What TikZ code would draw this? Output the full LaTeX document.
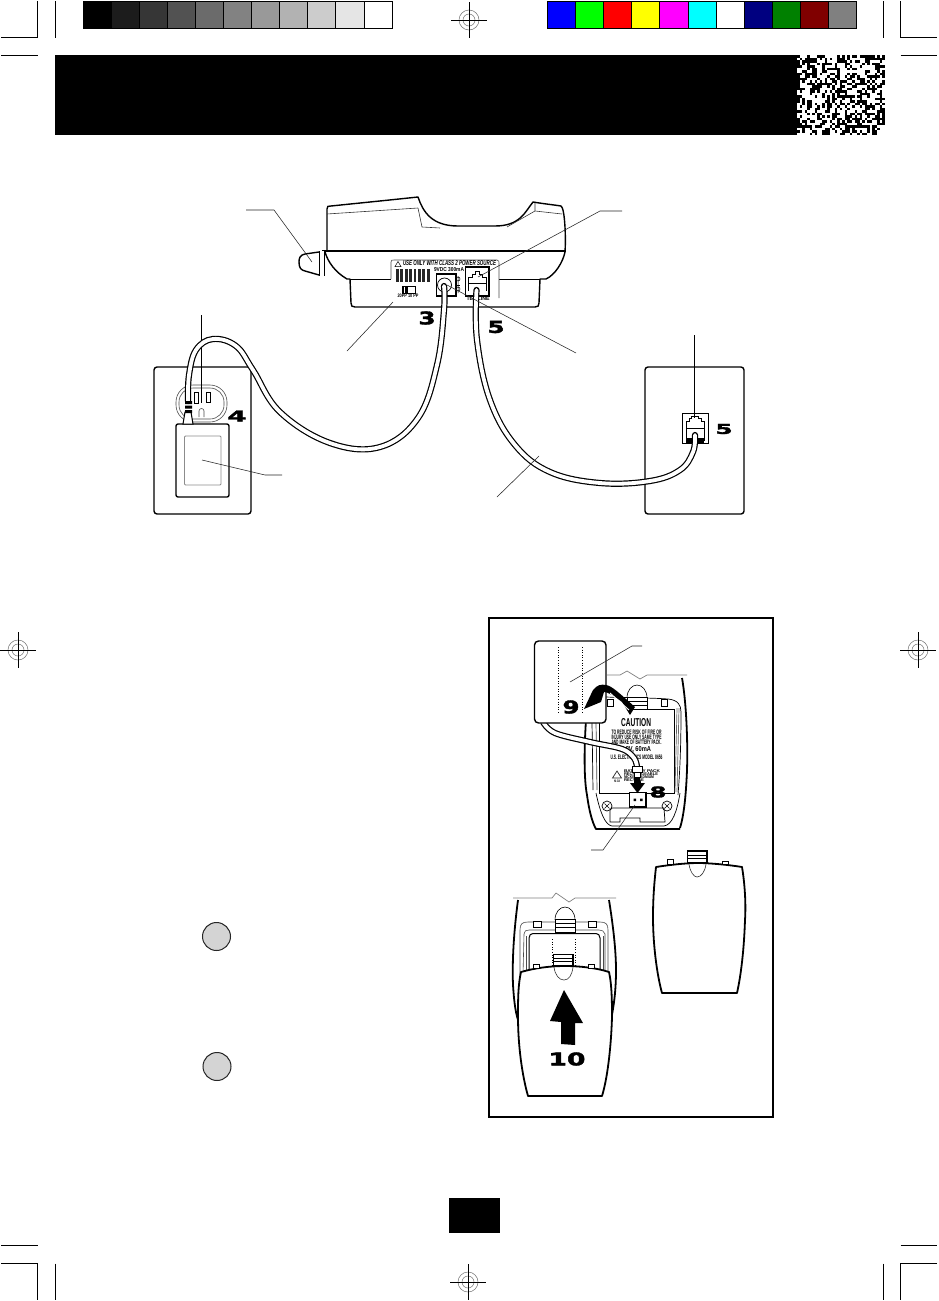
\documentclass[tikz,border=0pt]{standalone}
\usepackage{graphicx}
\usepackage{fontspec}
\setmainfont{Liberation Sans}
\newfontfamily\numfont[BoldFeatures={FakeBold=2}]{DejaVu Sans}
\newcommand{\fitbox}[3]{\resizebox{#1pt}{#2pt}{\bfseries #3}}
\newcommand{\bignum}[3]{\resizebox{#1pt}{#2pt}{\numfont\bfseries #3}}
\definecolor{cblue}{HTML}{0000FF}\definecolor{cgreen}{HTML}{00FF00}
\definecolor{cred}{HTML}{FF0000}\definecolor{cyellow}{HTML}{FFFF00}
\definecolor{cmagenta}{HTML}{FF00FF}\definecolor{ccyan}{HTML}{00FFFF}
\definecolor{cwhite}{HTML}{FFFFFF}
\definecolor{navyb}{HTML}{000080}\definecolor{greenb}{HTML}{008000}
\definecolor{maroonb}{HTML}{800000}\definecolor{greyb}{HTML}{808080}
\tikzset{
  crop/.style={line width=0.8pt,black},
  regline/.style={line width=0.9pt,black},
  regring/.style={line width=0.5pt,black!55},
  leader/.style={line width=0.55pt,black!85},
  breakline/.style={line width=0.7pt,black!50},
  body/.style={line width=1.4pt,black,line join=round},
  thick body/.style={line width=1.8pt,black,line join=round},
  thin body/.style={line width=0.6pt,black!80},
  cord/.style={line width=1.2pt,black,double=white,double distance=3.8pt,line cap=round},
  dots/.style={line width=0.8pt,black,dash pattern=on 1pt off 1.6pt},
  txt/.style={inner sep=0pt,outer sep=0pt,black},
  bullet/.style={circle,draw=black!85,line width=1pt,fill=black!17,minimum size=28pt,inner sep=0pt},
}
\begin{document}
\begin{tikzpicture}[x=1pt,y=-1pt]
\useasboundingbox (0,0) rectangle (938,1301);
\fill[white] (0,0) rectangle (938,1301);

% crop marks
\draw[crop] (37.5,1)--(37.5,37.5)--(1,37.5) (55,1)--(55,37.5) (1,55)--(37.5,55);
\draw[crop] (883,1)--(883,37.5) (900.5,1)--(900.5,37.5)--(937,37.5) (900.5,55)--(937,55);
\draw[crop] (1,1245)--(37.5,1245) (1,1263.5)--(37.5,1263.5)--(37.5,1300) (55,1263.5)--(55,1300);
\draw[crop] (883,1263.5)--(883,1300) (900.5,1245)--(937,1245) (937,1263.5)--(900.5,1263.5)--(900.5,1300);

% registration marks
\foreach \cx/\cy in {469/20,18/650,918/650,468/1282}{
  \draw[regring] (\cx,\cy) circle (10) (\cx,\cy) circle (6);
  \draw[regline] (\cx-18,\cy)--(\cx+18,\cy) (\cx,\cy-18)--(\cx,\cy+18);
}

% grey bar
\foreach \i/\g in {0/0,1/11,2/21,3/32,4/42,5/51,6/60,7/70,8/80,9/90,10/100}{
  \fill[black!\the\numexpr100-\g\relax] (83+\i*28.1,1) rectangle (83+\i*28.1+28.1,28.5);
}
\draw[line width=0.9pt,black] (83,28.5)--(392.5,28.5) (83,1)--(392.5,1) (392.5,1)--(392.5,28.5);
\foreach \i in {1,...,10}{\draw[line width=0.9pt,black] (83+\i*28.1,1)--(83+\i*28.1,28.5);}

% colour bar
\foreach \i/\c in {0/cblue,1/cgreen,2/cred,3/cyellow,4/cmagenta,5/ccyan,6/cwhite,7/navyb,8/greenb,9/maroonb,10/greyb}{
  \fill[\c] (547.5+\i*28.1,1) rectangle (547.5+\i*28.1+28.1,28.5);
}
\draw[line width=0.9pt,black] (547.5,1) rectangle (856.6,28.5);
\foreach \i in {1,...,10}{\draw[line width=0.9pt,black] (547.5+\i*28.1,1)--(547.5+\i*28.1,28.5);}

% banner and noise patch
\fill[black] (55,55) rectangle (797,135);
\pgfmathsetseed{4242}
\foreach \ix in {0,...,34}{
  \foreach \iy in {0,...,31}{
    \pgfmathparse{rnd<0.44?1:0}
    \ifnum\pgfmathresult=1
      \fill[black] (797+\ix*2.5,55+\iy*2.5) rectangle +(2.6,2.6);
    \fi
  }
}

% page number box
\fill[black] (449,1198) rectangle (500,1233);

% ---------- telephone base ----------
\draw[body,fill=white] (327,250) -- (327,209) .. controls (327,206) and (328,206) .. (331,206)
  .. controls (360,203) and (390,200) .. (418,197)
  .. controls (423,212) and (432,226) .. (458,226) -- (495,226)
  .. controls (520,226) and (525,212) .. (533,202) .. controls (545,204) and (555,205) .. (561,206)
  .. controls (565,208) and (566,240) .. (565,251);
\draw[thin body] (327,214) -- (418,208) (418,208)--(422,227) (422,227)--(440,228)
  (535,203)--(535,211)--(562,214) (507,227)--(535,211);
\draw[body,fill=white] (325,252) .. controls (328,262) and (335,272) .. (347,279) -- (350,279)
  -- (351,303) .. controls (351,306) and (352,307) .. (355,307) -- (535,307)
  .. controls (538,307) and (539,306) .. (539,303) -- (540,279) -- (546,279)
  .. controls (555,275) and (563,262) .. (565,252);
\draw[line width=2pt,black] (322,250.5)--(566,250.5);
\draw[line width=0.9pt] (350,279)--(391,279) (499,279)--(540,279);
% stub
\draw[body,fill=white] (319,252) -- (305,254) .. controls (300,255) and (299,258) .. (299,262)
  .. controls (299,268) and (301,270) .. (305,271) -- (319,275);
\fill[white] (319,251) rectangle (325,276);
\draw[line width=1pt] (319.5,251) -- (319.5,276) (324.5,251) -- (324.5,276);
% label plate
\draw[line width=0.6pt,black!70] (391,279) -- (391,262) .. controls (391,260) and (392,260) .. (394,260)
  -- (497,260) .. controls (499,260) and (499,262) .. (499,263) -- (499,298);
\draw[line width=0.5pt] (395,266.5)--(398,261.5)--(401,266.5)--cycle;
\node[txt,anchor=west] (plate) at (403,263.5) {\fitbox{93}{5}{\itshape USE ONLY WITH CLASS 2 POWER SOURCE}};
\node[txt,anchor=west] (rating) at (434,269.5) {\fitbox{30}{4}{9VDC 300mA}};
\foreach \i in {0,...,7}{\fill[black!85] (396+\i*4.4,269) rectangle +(2.7,12.5);}
% switch
\draw[line width=0.7pt,fill=white] (402,286) rectangle (415,293);
\fill[black] (403,286.5) rectangle (408,292.5);
\draw[white,line width=0.5pt] (404.5,286.5)--(404.5,292.5);
\node[txt] (swtext) at (408,296) {\fitbox{21}{3.5}{20PP 10 PP}};
% power socket
\draw[line width=1.1pt,fill=white] (436.5,274) rectangle (456,296);
\draw[line width=0.7pt] (444.5,285) circle (7);
\draw[line width=0.5pt] (458,276)--(458,293) (458,279) circle (2) (458,289) circle (2);
\draw[line width=0.5pt] (456,285)--(460,285);
% phone jack
\draw[line width=1.1pt,fill=white] (465.5,267) rectangle (489,296);
\draw[line width=0.9pt] (468,291)--(468,277)--(472,277)--(472,274)--(475,274)--(475,271)--(479,271)--(479,274)--(482,274)--(482,277)--(486,277)--(486,291);
\draw[line width=0.8pt] (468,283)--(486,283);
\node[txt] (teltext) at (478,299) {\fitbox{23}{4}{TEL/LINE}};
% leaders of base
\draw[leader] (246,210)--(274,210)--(312,262);
\draw[leader] (622,211)--(600,211)--(478,277);
\draw[leader] (347,351)--(393,302);
% numbers
\node[txt] (n3) at (427,318) {\bignum{17}{13}{3}};
\node[txt] (n5a) at (496,327) {\bignum{17}{12}{5}};

% ---------- left wall plate ----------
\draw[body,fill=white,rounded corners=3pt] (154,367) rectangle (251,514);
\draw[line width=0.6pt,black!70,rounded corners=17pt] (176,385) rectangle (227,422);
\draw[line width=0.6pt,black!70,rounded corners=14pt] (179,388) rectangle (224,419);
\draw[line width=0.9pt,fill=white] (194,392) rectangle (198,403) (206,392) rectangle (210,402);
\draw[line width=0.6pt,black!70] (199,417)--(199,411) arc (180:360:2.5)--(204,417);
\draw[leader,line width=0.8pt,black] (201.5,315)--(201.5,403);
\node[txt] (n4) at (237,416) {\bignum{19}{11}{4}};
% adapter
\draw[body,fill=white,rounded corners=2pt] (176,424) rectangle (229,497);
\draw[line width=0.9pt,black!45,rounded corners=1pt] (184.5,436) rectangle (221,485);
\draw[leader] (202,460)--(265,475)--(282,475);
% plug
\draw[line width=1pt,fill=white] (185,412) -- (183,424) -- (193,424) -- (191,412) -- cycle;

% ---------- right wall plate ----------
\draw[body,fill=white,rounded corners=3pt] (645,367) rectangle (744,514);
\draw[line width=0.9pt,fill=white] (682.5,413.5) rectangle (708,443.5);
\draw[line width=0.8pt] (686,441)--(686,421)--(689,421)--(689,418)--(691,418)--(691,416)--(698,416)--(698,418)--(701,418)--(701,421)--(704,421)--(704,441);
\draw[line width=0.8pt] (686,428)--(704,428);
\fill[black] (686,438) rectangle (704,443);
\draw[leader,line width=0.8pt,black] (694,335)--(694,418);
\node[txt] (n5b) at (724,429) {\bignum{17}{10}{5}};

% ---------- cords ----------
\draw[cord] plot[smooth,tension=0.65] coordinates {(188,401) (189,375) (196,350) (213,339) (236,346) (253,370) (280,412) (330,443) (380,447) (418,418) (437,365) (444,310) (444,286)};
\fill[black] (185,401) rectangle (192,404) (185,405.5) rectangle (192,408.5) (185,410) rectangle (192,413);
\draw[cord] plot[smooth,tension=0.65] coordinates {(476.5,290) (477,340) (490,400) (515,445) (550,472) (600,483) (650,481) (680,470) (693,452) (695,435)};
\draw[leader] (497,497)--(539,456);
\draw[leader] (576,353)--(447,285);

% ---------- battery panel ----------
\draw[line width=1.9pt,black] (489,618) rectangle (773,1117);

% upper handset
\draw[breakline] (607,675)--(620,675)--(627,671)--(640,679)--(647,675)--(687,675);
\draw[thick body] (682,678) .. controls (686,700) and (688,740) .. (687,770) .. controls (686,795) and (684,815) .. (680,828);
\draw[thick body] (586,720) .. controls (584,750) and (584,780) .. (587,795) .. controls (589,810) and (592,822) .. (596,829) -- (680,829);
\draw[line width=0.7pt] (605,697) .. controls (640,698) and (655,698) .. (668,699) .. controls (678,700) and (681,705) .. (681,712)
  .. controls (681,745) and (680,770) .. (678,795);
\draw[line width=0.7pt] (592,722) -- (593,790);
\draw[line width=0.7pt,black!70] (596,722) -- (597,790);
\draw[line width=0.8pt] (599,709) -- (599,793) -- (674,793) -- (674,709) -- (647,709);
\draw[line width=0.7pt,black!60] (677,708)--(675,792) (679,708)--(677,792);
\draw[line width=0.7pt] (596,793) .. controls (600,812) and (605,825) .. (612,826) -- (664,826) .. controls (672,825) and (677,812) .. (680,793);
% latch
\draw[line width=0.7pt] (610,810)--(612,808)--(664,808)--(665,822)--(640,822)--(640,818)--(620,818)--(620,822)--(610,822)--cycle;
\foreach \sx in {607,667}{
  \draw[line width=0.7pt] (\sx,806) circle (5);
  \draw[line width=0.6pt] (\sx-2.5,803.5)--(\sx+2.5,808.5) (\sx-2.5,808.5)--(\sx+2.5,803.5);
}
% tab
\draw[line width=0.6pt] (627,698) .. controls (627,690) and (632,685) .. (637,685) .. controls (642,685) and (647,690) .. (647,698);
\draw[line width=0.8pt,fill=white] (627,697) rectangle (647,709);
\draw[line width=0.8pt] (627,701)--(647,701) (627,705)--(647,705);
\draw[line width=0.8pt,fill=white] (607,699) rectangle (613,706) (661,699) rectangle (667,706);
% label text
\node[txt] (caution) at (636,723) {\fitbox{30}{8}{CAUTION}};
\node[txt] (cl1) at (636.5,732.5) {\fitbox{50}{4.5}{TO REDUCE RISK OF FIRE OR}};
\node[txt] (cl2) at (636.5,737.5) {\fitbox{50}{4.5}{INJURY USE ONLY SAME TYPE}};
\node[txt] (cl3) at (636.5,742.5) {\fitbox{50}{4.5}{AND MAKE OF BATTERY PACK.}};
\node[txt] (cl4) at (636,750) {\fitbox{30}{5}{4.8V, 60mA}};
\node[txt] (cl5) at (636.5,757) {\fitbox{52}{4.5}{U.S. ELECTRONICS MODEL 8656}};
\node[txt,anchor=west] (cs1) at (624,771) {\fitbox{36}{2.8}{BATTERY PACK}};
\node[txt,anchor=west] (cs2) at (624,774) {\fitbox{34}{2.8}{RECHARGEABLE}};
\node[txt,anchor=west] (cs3) at (624,777) {\fitbox{30}{2.8}{NICKEL-CADMIUM}};
\node[txt,anchor=west] (cs4) at (624,780) {\fitbox{20}{2.8}{RECYCLE}};
\draw[line width=0.7pt,black!85] (617,771)--(621.5,778)--(612.5,778)--cycle;
\node[txt] (rec) at (617,781.5) {\fitbox{6}{2.6}{Ni-Cd}};
% cord to connector
\draw[cord,line cap=butt] plot[smooth,tension=0.6] coordinates {(543,722) (555,733) (590,742) (622,749) (634,758) (637,767)};
\draw[line width=1pt,fill=white] (632,766) rectangle (642,772);
\draw[line width=1pt,fill=white] (634,772) rectangle (640,777);
% socket
\draw[line width=1.2pt,fill=white] (629.5,792.5) rectangle (646,807);
\fill[black] (633.5,798.5) rectangle (636,801) (640,798.5) rectangle (642.5,801);
% connector arrow
\fill[black] (634,777) -- (640,777) -- (641,783) -- (645,783) -- (637.5,793) -- (630,783) -- (634,783) -- cycle;
\node[txt] (n8) at (658,792) {\bignum{17}{11}{8}};
\draw[leader] (635,805)--(603,850)--(591,850);
% battery pack
\draw[body,fill=white,rounded corners=4pt] (534.5,641) rectangle (606,723);
\draw[dots] (558.5,647)--(558.5,713) (582.5,647)--(582.5,713);
\node[txt] (n9) at (571,707) {\bignum{17}{13}{9}};
\draw[leader] (570,682)--(632,646)--(642,646);
% swoosh arrow
\fill[black] (584,709) -- (593,690) .. controls (597,685) and (601,684) .. (606,685)
  .. controls (612,686) and (618,692) .. (635,707) -- (630,715) -- (622,702)
  .. controls (614,696) and (608,692) .. (604,692) -- (601,702) -- cycle;
\draw[white,line width=0.9pt] (610,693)--(629,710);

% lower handset
\draw[breakline] (513,898)--(552,898)--(556,893)--(569,902)--(575,898)--(616,898);
\draw[thick body] (518,900) .. controls (514,930) and (512,960) .. (513,985) .. controls (514,1000) and (515,1010) .. (518,1020);
\draw[thick body] (609,900) .. controls (613,925) and (616,950) .. (616,970) .. controls (616,990) and (614,1005) .. (611,1020);
\draw[line width=0.6pt,black!70] (520,975) -- (520,930) .. controls (520,924) and (522,922) .. (528,922)
  -- (600,922) .. controls (606,922) and (608,924) .. (608,930) -- (608,975);
\draw[line width=0.6pt,black!70] (523,975)--(524,934) .. controls (524,931) and (526,930) .. (529,930) -- (599,930)
  .. controls (602,930) and (604,931) .. (605,934) -- (605,975);
\draw[line width=0.6pt,black!70] (526,975)--(526,936) (603,975)--(603,936);
\draw[line width=1pt] (529,970)--(529,938) .. controls (529,935) and (531,933.5) .. (533,933.5) -- (596,933.5)
  .. controls (598,933.5) and (600,935) .. (600,938) -- (600,970);
\draw[dots] (552.5,939)--(552.5,966) (575.5,939)--(575.5,966);
\draw[line width=0.6pt] (555,920) .. controls (555,912) and (560,907) .. (565,907) .. controls (570,907) and (575,912) .. (575,920);
\draw[line width=0.8pt,fill=white] (555,919) rectangle (575,932);
\draw[line width=0.8pt] (555,923)--(575,923) (555,927.5)--(575,927.5);
\draw[line width=0.8pt,fill=white] (533.5,921) rectangle (541.5,927) (588.5,921) rectangle (596,927);

% cover 10
\draw[thick body,fill=white] (521,972) .. controls (535,968) and (550,966) .. (565,966) .. controls (580,966) and (597,968) .. (609,972)
  .. controls (612,985) and (612,1005) .. (612,1017) .. controls (611,1050) and (607,1080) .. (602,1096)
  -- (528,1096) .. controls (522,1075) and (518,1045) .. (518,1017) .. controls (518,1000) and (518,985) .. (521,972) -- cycle;
\draw[line width=0.6pt,black!80] (554,967) .. controls (555,975) and (559,980) .. (564,980) .. controls (569,980) and (572,975) .. (573,967);
\draw[line width=1.1pt,fill=white] (553.5,954.5) rectangle (573,966);
\draw[line width=0.9pt] (553.5,958)--(573,958) (553.5,961.5)--(573,961.5);
\draw[line width=1pt,fill=white] (533.5,964) rectangle (539,968) (588.5,964) rectangle (594,968);
\fill[black] (564,990) -- (583,1023) -- (575,1023) -- (575,1045) -- (561,1044) -- (561,1022) -- (550,1021) -- cycle;
\node[txt] (n10) at (567,1059) {\bignum{37}{13}{10}};

% loose cover
\draw[thick body,fill=white] (656,867) .. controls (675,864) and (690,863) .. (698,863) .. controls (710,863) and (730,865) .. (742,867)
  .. controls (745,885) and (746,905) .. (745,920) .. controls (744,950) and (741,975) .. (737,993)
  -- (662,993) .. controls (657,975) and (653,945) .. (653,917) .. controls (653,900) and (654,885) .. (656,867) -- cycle;
\draw[line width=0.6pt,black!80] (689,864) .. controls (690,872) and (694,877) .. (697,877) .. controls (701,877) and (705,872) .. (706,864);
\draw[line width=1.1pt,fill=white] (687.5,851) rectangle (707,863);
\draw[line width=0.9pt] (687.5,855)--(707,855) (687.5,858.5)--(707,858.5);
\draw[line width=1pt,fill=white] (667.5,859.5) rectangle (673,864) (722.5,861) rectangle (728,864.5);

% bullets
\node[bullet] (b1) at (216.5,936.5) {};
\node[bullet] (b2) at (217,1066.5) {};
\end{tikzpicture}
\end{document}
